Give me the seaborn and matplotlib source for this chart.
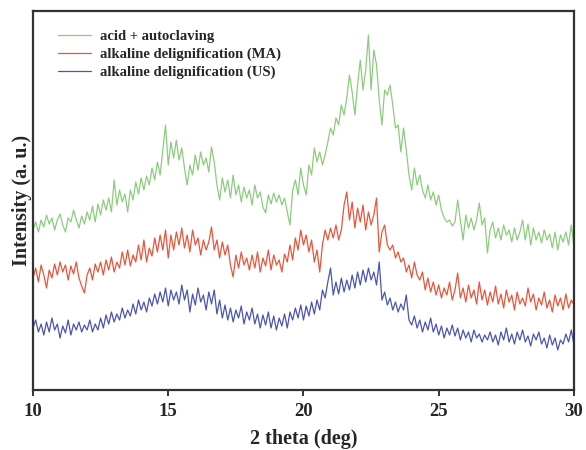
import numpy as np
import pandas as pd
import matplotlib
matplotlib.use("Agg")
import matplotlib.pyplot as plt
import seaborn as sns

# 2-theta scan, 10-30 deg in 0.1 deg steps
two_theta = np.round(np.arange(10.0, 30.0001, 0.1), 1)

acid_autoclaving = [
    160, 168, 158, 170, 163, 175, 166, 172, 160, 170,
    176, 165, 158, 172, 168, 180, 170, 162, 174, 166,
    178, 170, 184, 168, 186, 175, 190, 180, 192, 178,
    210, 185, 200, 188, 196, 178, 200, 190, 208, 196,
    212, 200, 214, 205, 222, 210, 228, 215, 240, 265,
    225, 248, 232, 250, 230, 242, 222, 205, 225, 215,
    235, 220, 238, 225, 232, 218, 243, 228, 205, 190,
    212, 198, 210, 192, 215, 195, 205, 188, 203, 192,
    200, 185, 205, 192, 198, 183, 177, 195, 186, 197,
    188, 195, 185, 192, 178, 165, 200, 210, 195, 222,
    205, 195, 225, 215, 242, 228, 238, 225, 235, 248,
    262, 255, 272, 265, 285, 275, 292, 315, 298, 275,
    305, 330, 300, 320, 355, 300, 340, 325, 290, 265,
    300, 295, 305, 285, 262, 265, 238, 262, 240, 215,
    200, 222, 205, 215, 200, 192, 205, 190, 198, 185,
    195, 180, 172, 168, 170, 164, 168, 190, 170, 150,
    175, 162, 172, 160, 170, 187, 165, 172, 137, 160,
    168, 152, 162, 150, 165, 155, 160, 148, 162, 150,
    158, 170, 150, 166, 145, 162, 150, 158, 147, 160,
    150, 156, 142, 158, 140, 155, 148, 158, 145, 165,
    143,
]

alkaline_ma = [
    112, 122, 108, 125, 115, 102, 120, 112, 126, 115,
    128, 118, 125, 110, 124, 116, 128, 112, 104, 97,
    115, 122, 110, 126, 118, 128, 115, 130, 120, 133,
    118, 128, 122, 138, 125, 140, 124, 135, 128, 145,
    130, 150, 128, 142, 134, 152, 138, 155, 140, 160,
    132, 155, 140, 158, 145, 162, 142, 155, 138, 160,
    145, 152, 135, 150, 140, 148, 163, 140, 150, 132,
    148, 135, 145, 125, 113, 135, 122, 138, 125, 132,
    120, 135, 122, 138, 118, 132, 124, 140, 120, 135,
    125, 130, 118, 136, 128, 145, 130, 152, 140, 160,
    145, 155, 138, 150, 128, 140, 118, 145, 160, 150,
    162, 152, 165, 150, 160, 185, 198, 170, 188, 162,
    182, 168, 185, 160, 178, 165, 175, 192, 138, 158,
    165, 145, 140, 145, 132, 138, 128, 132, 118, 125,
    112, 128, 115, 110, 118, 100, 112, 98, 108, 95,
    105, 92, 102, 95, 108, 90, 100, 117, 92, 102,
    88, 105, 92, 100, 86, 108, 90, 100, 85, 98,
    88, 104, 86, 96, 82, 100, 88, 95, 80, 98,
    86, 92, 84, 102, 88, 96, 80, 92, 85, 98,
    82, 90, 78, 95, 84, 92, 80, 96, 82, 90,
    85,
]

alkaline_us = [
    62, 70, 58, 66, 55, 68, 58, 72, 60, 66,
    52, 64, 57, 70, 55, 66, 60, 68, 58, 65,
    60, 70, 58, 66, 60, 72, 62, 75, 66, 78,
    68, 76, 70, 82, 72, 80, 74, 86, 76, 90,
    80, 88, 78, 92, 84, 96, 86, 98, 88, 102,
    84, 100, 90, 98, 86, 105, 90, 100, 78, 96,
    85, 102, 88, 95, 80, 98, 86, 100, 76, 90,
    72, 85, 70, 82, 68, 80, 72, 84, 66, 78,
    70, 82, 66, 76, 62, 75, 65, 78, 62, 74,
    60, 72, 64, 76, 62, 78, 70, 82, 72, 85,
    70, 84, 74, 88, 76, 90, 80, 100, 92, 108,
    122, 95, 108, 96, 112, 98, 110, 100, 115, 102,
    118, 105, 120, 108, 122, 110, 118, 105, 128, 90,
    98, 85, 92, 80, 88, 78, 86, 80, 95, 70,
    65, 74, 62, 70, 58, 68, 60, 72, 58, 66,
    55, 64, 52, 62, 55, 65, 54, 62, 50, 60,
    52, 58, 48, 60, 52, 56, 48, 55, 50, 58,
    48, 55, 45, 58, 50, 62, 48, 56, 46, 58,
    50, 60, 48, 54, 44, 56, 50, 58, 46, 52,
    42, 55, 45, 52, 40, 50, 46, 56, 48, 60,
    45,
]

sample_names = [
    "acid + autoclaving",
    "alkaline delignification (MA)",
    "alkaline delignification (US)",
]
line_colors = ["#8ccc7e", "#e9553a", "#4b55b3"]

df = pd.concat(
    [
        pd.DataFrame({"two_theta": two_theta, "intensity": vals, "sample": name})
        for name, vals in zip(sample_names, [acid_autoclaving, alkaline_ma, alkaline_us])
    ],
    ignore_index=True,
)

sns.set_style("white")
plt.rcParams["font.family"] = ["Liberation Serif", "DejaVu Serif"]
plt.rcParams["font.weight"] = "bold"

fig = plt.figure(figsize=(5.86, 4.5), dpi=100)
ax = fig.add_axes([0.0563, 0.1333, 0.9232, 0.8423])

sns.lineplot(
    data=df, x="two_theta", y="intensity", hue="sample",
    hue_order=sample_names, palette=line_colors, linewidth=0.9,
    ax=ax, estimator=None, sort=False,
)

ax.set_xlim(10, 30)
ax.set_ylim(0, 379)
ax.set_xticks([10, 15, 20, 25, 30])
ax.set_yticks([])
ax.tick_params(axis="x", bottom=True, direction="out", length=4, width=1.4,
               color="#333333", labelsize=13.5, pad=5)
for lab in ax.get_xticklabels():
    lab.set_fontweight("bold")

for side in ["left", "right", "top", "bottom"]:
    ax.spines[side].set_visible(True)
    ax.spines[side].set_linewidth(1.6)
    ax.spines[side].set_color("#333333")

ax.set_xlabel("2 theta (deg)", fontsize=14.5, fontweight="bold", labelpad=7)
ax.set_ylabel("Intensity (a. u.)", fontsize=14.5, fontweight="bold", labelpad=1)

leg = ax.legend(
    loc="upper left", frameon=False, fontsize=10.5, handlelength=2.3,
    handletextpad=0.6, labelspacing=0.3, borderaxespad=0.0,
    bbox_to_anchor=(0.035, 0.965),
)
for t in leg.get_texts():
    t.set_fontweight("bold")

fig.savefig("out.png", dpi=100)
